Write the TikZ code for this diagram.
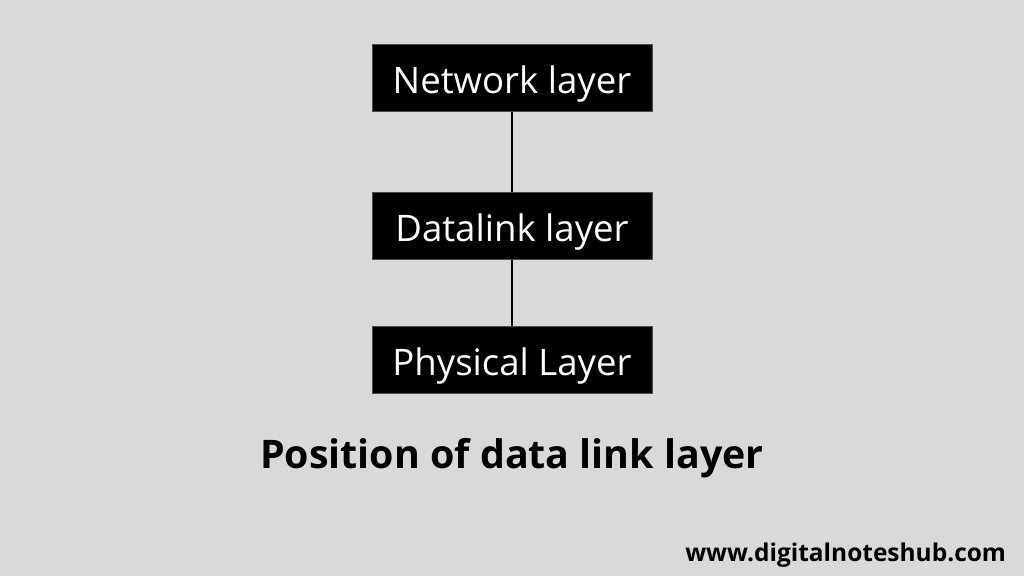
\documentclass[tikz,border=0pt]{standalone}
\usepackage{fontspec}
\setmainfont{Open Sans}
\usepackage{tikz}
\usetikzlibrary{positioning}
\definecolor{bggray}{HTML}{D9D9D9}

\begin{document}
\begin{tikzpicture}[
  x=0.025cm, y=-0.025cm,
  layer/.style={rectangle, fill=black, draw=black!70, text=white,
                minimum width=7cm, minimum height=1.675cm, inner sep=0pt,
                text height=21.4pt, text depth=0pt,
                font=\fontsize{26}{30}\selectfont},
  link/.style={black, line width=0.9pt}
]

  \fill[bggray] (0,0) rectangle (1024,576);

  \node[layer] (net) at (512, 78)  {Network layer};
  \node[layer] (dll) at (512, 226) {Datalink layer};
  \node[layer] (phy) at (512, 360) {Physical Layer};

  \node[font=\fontsize{28}{33}\selectfont\bfseries] (title) at (512, 458)
    {Position of data link layer};
  \node[font=\fontsize{17.4}{20}\selectfont\bfseries, anchor=east] (url) at (1011, 555)
    {www.digitalnoteshub.com};

  \draw[link] (net) -- (dll);
  \draw[link] (dll) -- (phy);

\end{tikzpicture}
\end{document}
